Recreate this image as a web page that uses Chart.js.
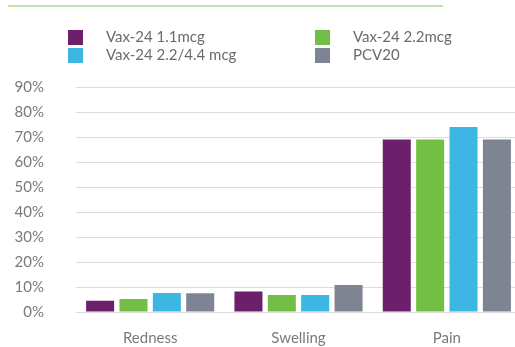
<!DOCTYPE html>
<html>
<head>
<meta charset="utf-8">
<script src="https://cdn.jsdelivr.net/npm/chart.js@4.4.1/dist/chart.umd.min.js"></script>
<style>
  html, body { margin: 0; padding: 0; background: #ffffff; overflow: hidden; }
  #wrap { width: 515px; height: 347px; overflow: hidden; position: relative; }
  canvas { display: block; }
</style>
</head>
<body>
<div id="wrap"><canvas id="chart" width="521" height="347"></canvas></div>
<script>
// Local reactions by vaccine group (% of participants)
const categories = ['Redness', 'Swelling', 'Pain'];
const seriesNames = ['Vax-24 1.1mcg', 'Vax-24 2.2mcg', 'Vax-24 2.2/4.4 mcg', 'PCV20'];
const vax11 = [4.5, 8.2, 69];
const vax22 = [5.2, 6.8, 69];
const vax2244 = [7.6, 6.8, 74];
const pcv20 = [7.5, 10.8, 69];
const yTicks = [0, 10, 20, 30, 40, 50, 60, 70, 80, 90];

const colors = ['#6c1f6a', '#73bf45', '#3cb7e4', '#7e8491'];
const seriesValues = [vax11, vax22, vax2244, pcv20];

const FONT = 'Lato, "Open Sans", sans-serif';

// Two-column legend plus the thin accent rule across the top
const legendBlock = {
  id: 'legendBlock',
  afterDraw(chart) {
    const ctx = chart.ctx;
    ctx.save();
    ctx.fillStyle = '#c2e1ab';
    ctx.fillRect(8, 5, 435, 2);

    const colX = [68, 315];
    const rowY = [30, 48];
    ctx.font = '15px ' + FONT;
    ctx.textBaseline = 'middle';
    ctx.textAlign = 'left';
    chart.data.datasets.forEach((ds, i) => {
      const col = i % 2;
      const row = Math.floor(i / 2);
      const x = colX[col];
      const y = rowY[row];
      ctx.fillStyle = ds.backgroundColor;
      ctx.fillRect(x, y, 15, 15);
      ctx.fillStyle = '#6b6b6b';
      ctx.fillText(ds.label, x + 38, y + 7.5);
    });
    ctx.restore();
  }
};

new Chart(document.getElementById('chart'), {
  type: 'bar',
  data: {
    labels: categories,
    datasets: seriesNames.map((name, i) => ({
      label: name,
      data: seriesValues[i],
      backgroundColor: colors[i],
      borderWidth: 0,
      categoryPercentage: 0.9,
      barPercentage: 0.84
    }))
  },
  options: {
    responsive: false,
    animation: false,
    layout: { padding: { top: 87, left: 0, right: 0, bottom: 0 } },
    plugins: {
      legend: { display: false },
      tooltip: { enabled: false }
    },
    scales: {
      x: {
        afterFit(scale) { scale.height = 35; },
        grid: { display: false, drawTicks: false },
        border: { display: false },
        ticks: {
          color: '#7a7a7a',
          font: { family: FONT, size: 15 },
          padding: 17,
          maxRotation: 0
        }
      },
      y: {
        min: 0,
        max: 90,
        afterBuildTicks(scale) {
          scale.ticks = yTicks.map(v => ({ value: v }));
        },
        afterFit(scale) {
          scale.width = 76;
          scale.paddingTop = 0;
          scale.paddingBottom = 0;
        },
        grid: { color: '#dcdcdc', lineWidth: 1, drawTicks: false },
        border: { display: false },
        ticks: {
          color: '#7a7a7a',
          font: { family: FONT, size: 15 },
          padding: 32,
          callback: v => v + '%'
        }
      }
    }
  },
  plugins: [legendBlock]
});
</script>
</body>
</html>
